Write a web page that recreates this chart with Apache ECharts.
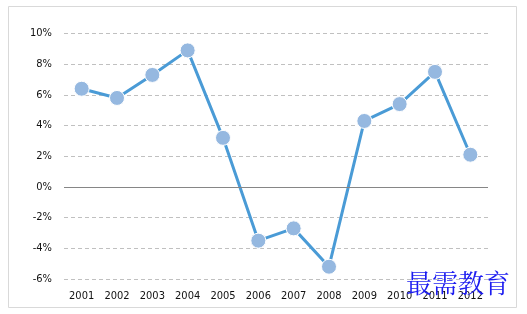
<!DOCTYPE html>
<html><head><meta charset="utf-8">
<script src="https://cdn.jsdelivr.net/npm/echarts@6/dist/echarts.min.js"></script>
<style>html,body{margin:0;padding:0;background:#fff}#c{width:527px;height:314px}</style>
</head><body><div id="c"></div>
<script>
var years = ['2001','2002','2003','2004','2005','2006','2007','2008','2009','2010','2011','2012'];
var growth = [6.4, 5.8, 7.3, 8.9, 3.2, -3.5, -2.7, -5.2, 4.3, 5.4, 7.5, 2.1];
var yTicks = [-6, -4, -2, 0, 2, 4, 6, 8, 10];
var watermark = '最需教育';

var chart = echarts.init(document.getElementById('c'), null, {renderer:'canvas'});
chart.setOption({
  animation:false,
  backgroundColor:'#fff',
  grid:{left:64, right:39, top:33.5, bottom:35},
  xAxis:{type:'category', data:years, boundaryGap:true,
    axisLine:{show:false}, axisTick:{show:false},
    axisLabel:{interval:0, color:'#111', fontSize:11, fontFamily:'DejaVu Sans Condensed, DejaVu Sans', margin:12}},
  yAxis:{type:'value', min:yTicks[0], max:yTicks[yTicks.length-1], interval:2,
    axisLine:{show:false}, axisTick:{show:false},
    axisLabel:{color:'#111', fontSize:11, fontFamily:'DejaVu Sans Condensed, DejaVu Sans', margin:12, formatter:function(v){return v+'%';}},
    splitLine:{lineStyle:{color:'#c0c0c0', type:[4,3], width:1}}},
  series:[{type:'line', data:growth, symbol:'circle', symbolSize:15,
    lineStyle:{color:'#4a9bd6', width:3},
    itemStyle:{color:'#95b8e0', borderColor:'#ffffff', borderWidth:1},
    markLine:{silent:true, symbol:'none', label:{show:false},
      lineStyle:{color:'#868686', type:'solid', width:1}, data:[{yAxis:0}]},
    z:3}],
  graphic:[
    {type:'rect', shape:{x:8.5, y:6.5, width:508, height:301}, style:{fill:'none', stroke:'#d9d9d9', lineWidth:1}, z:-1},
    {type:'text', left:406, top:270, style:{text:watermark, fill:'#1c1cf0', font:'26px "AR PL UKai CN", "Noto Serif CJK SC", "Noto Sans CJK SC", serif'}, z:10}
  ]
});
</script></body></html>
